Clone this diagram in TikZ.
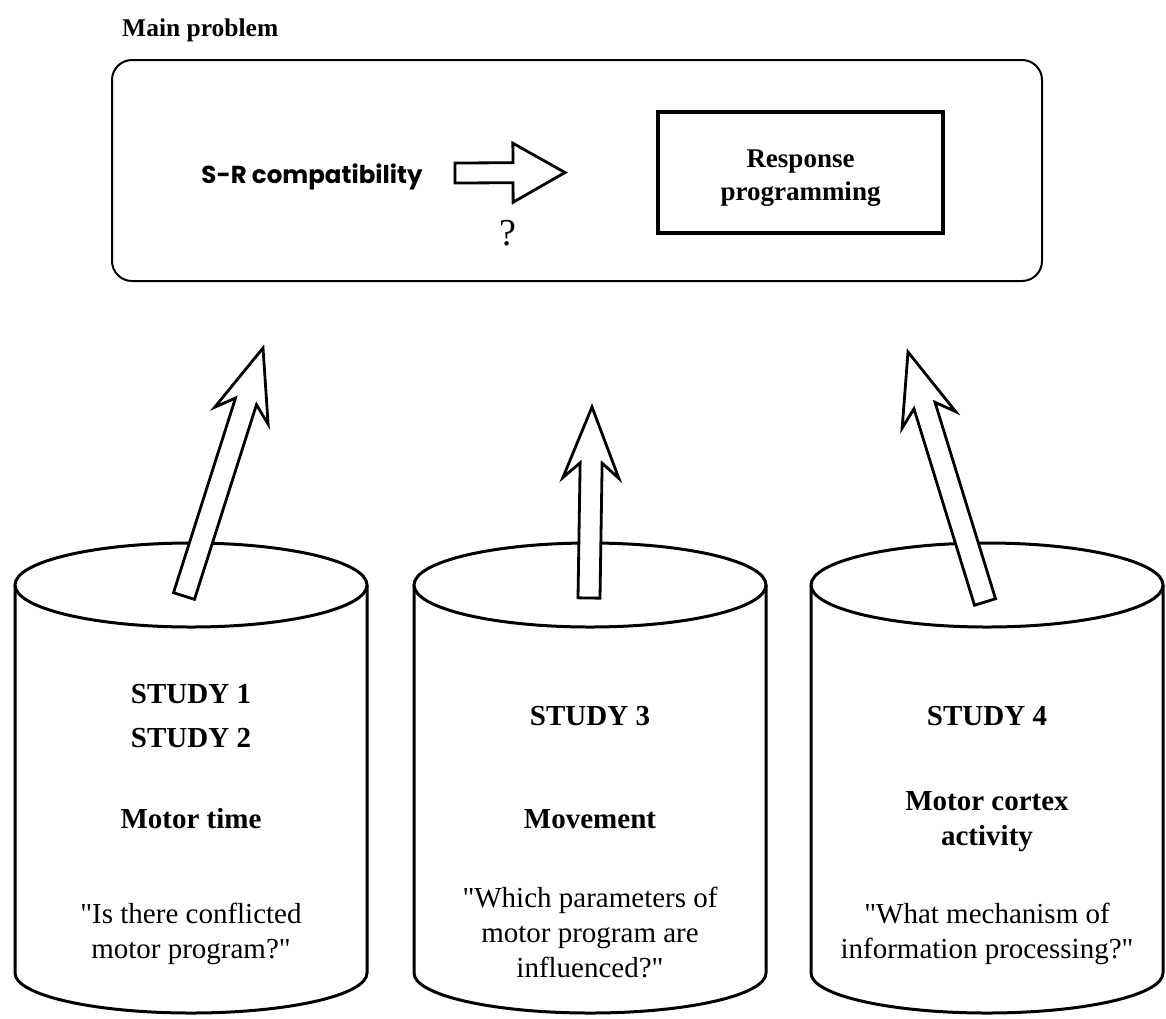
\documentclass[tikz,border=0pt]{standalone}
\usepackage{fontspec}
\setmainfont{Liberation Serif}
\newfontfamily\qfont{Liberation Serif}
\newfontfamily\srfont{Poppins}
\usetikzlibrary{calc}
\newcommand{\blkarrow}[6]{% tail, tip, shaft half, head half, neck dist, barb dist
  \coordinate (hbN) at ($(#2)!#5!(#1)$);
  \coordinate (hbB) at ($(#2)!#6!(#1)$);
  \draw[harrow] ($(#1)!#3!-90:(#2)$) -- ($(hbN)!#3!-90:(#2)$) -- ($(hbB)!#4!-90:(#2)$) -- (#2)
     -- ($(hbB)!#4!90:(#2)$) -- ($(hbN)!#3!90:(#2)$) -- ($(#1)!#3!90:(#2)$) -- cycle;}
\newcommand{\cylshape}[1]{%
  \draw[cyl] (#1-176,585) -- (#1-176,973) arc (180:360:176pt and 40pt) -- (#1+176,585);
  \draw[cyl] (#1,585) ellipse (176pt and 42pt);}
\begin{document}
\begin{tikzpicture}[x=1pt,y=-1pt,
  cyl/.style={draw, line width=3pt, fill=white},
  harrow/.style={draw, line width=2.8pt, fill=white, line join=miter},
  hd/.style={font=\fontsize{29}{33}\selectfont\bfseries, anchor=base, inner sep=0pt},
  qt/.style={font=\qfont\fontsize{29}{35}\selectfont, anchor=base, inner sep=0pt}]
\useasboundingbox (0,0) rectangle (1166,1018);

% main problem
\node[anchor=base west, inner sep=0pt, font=\fontsize{25.5}{30}\selectfont\bfseries] (mp) at (122,36) {Main problem};
\node[draw, line width=2pt, rounded corners=20pt, minimum width=930pt, minimum height=221pt, inner sep=0pt] (main) at (577,170.5) {};
\node[draw, line width=3.2pt, minimum width=285pt, minimum height=121pt, inner sep=0pt] (rp) at (800.5,172.5) {};
\node[anchor=base, inner sep=0pt, font=\fontsize{27}{33}\selectfont\bfseries] (rp1) at (800.5,167) {Response};
\node[anchor=base, inner sep=0pt, font=\fontsize{27}{33}\selectfont\bfseries] (rp2) at (800.5,200) {programming};
\node[anchor=base, inner sep=0pt, font=\srfont\bfseries\fontsize{24.5}{28}\selectfont] (sr) at (312,183) {S-R compatibility};
\coordinate (sra) at (455,173);
\coordinate (srb) at (565,172.5);
\blkarrow{sra}{srb}{10pt}{29.5pt}{52pt}{52pt}
\node[anchor=base, inner sep=0pt, font=\fontsize{38}{40}\selectfont] (q) at (508,245) {?};

% cylinders
\cylshape{191}
\cylshape{590}
\cylshape{987}
\coordinate (c1) at (191,585);
\coordinate (c2) at (590,585);
\coordinate (c3) at (987,585);

% arrows
\coordinate (a1t) at (184,596);
\coordinate (a1h) at (263,348);
\coordinate (a2t) at (589,598);
\coordinate (a2h) at (592,407);
\coordinate (a3t) at (985,602);
\coordinate (a3h) at (908,352);
\blkarrow{a1t}{a1h}{11pt}{28pt}{56pt}{71pt}
\blkarrow{a2t}{a2h}{11pt}{28pt}{56pt}{71pt}
\blkarrow{a3t}{a3h}{11pt}{28pt}{56pt}{71pt}

% texts
\node[hd] (s1) at (191,703) {STUDY 1};
\node[hd] (s2) at (191,747) {STUDY 2};
\node[hd] (t1) at (191,828) {Motor time};
\node[qt] (q1a) at (191,923) {"Is there conflicted};
\node[qt] (q1b) at (191,958) {motor program?"};

\node[hd] (s3) at (590,725) {STUDY 3};
\node[hd] (t2) at (590,828) {Movement};
\node[qt] (q2a) at (590,907) {"Which parameters of};
\node[qt] (q2b) at (590,942) {motor program are};
\node[qt] (q2c) at (590,977) {influenced?"};

\node[hd] (s4) at (987,725) {STUDY 4};
\node[hd] (t3a) at (987,810) {Motor cortex};
\node[hd] (t3b) at (987,845) {activity};
\node[qt] (q3a) at (987,923) {"What mechanism of};
\node[qt] (q3b) at (987,958) {information processing?"};
\end{tikzpicture}
\end{document}
